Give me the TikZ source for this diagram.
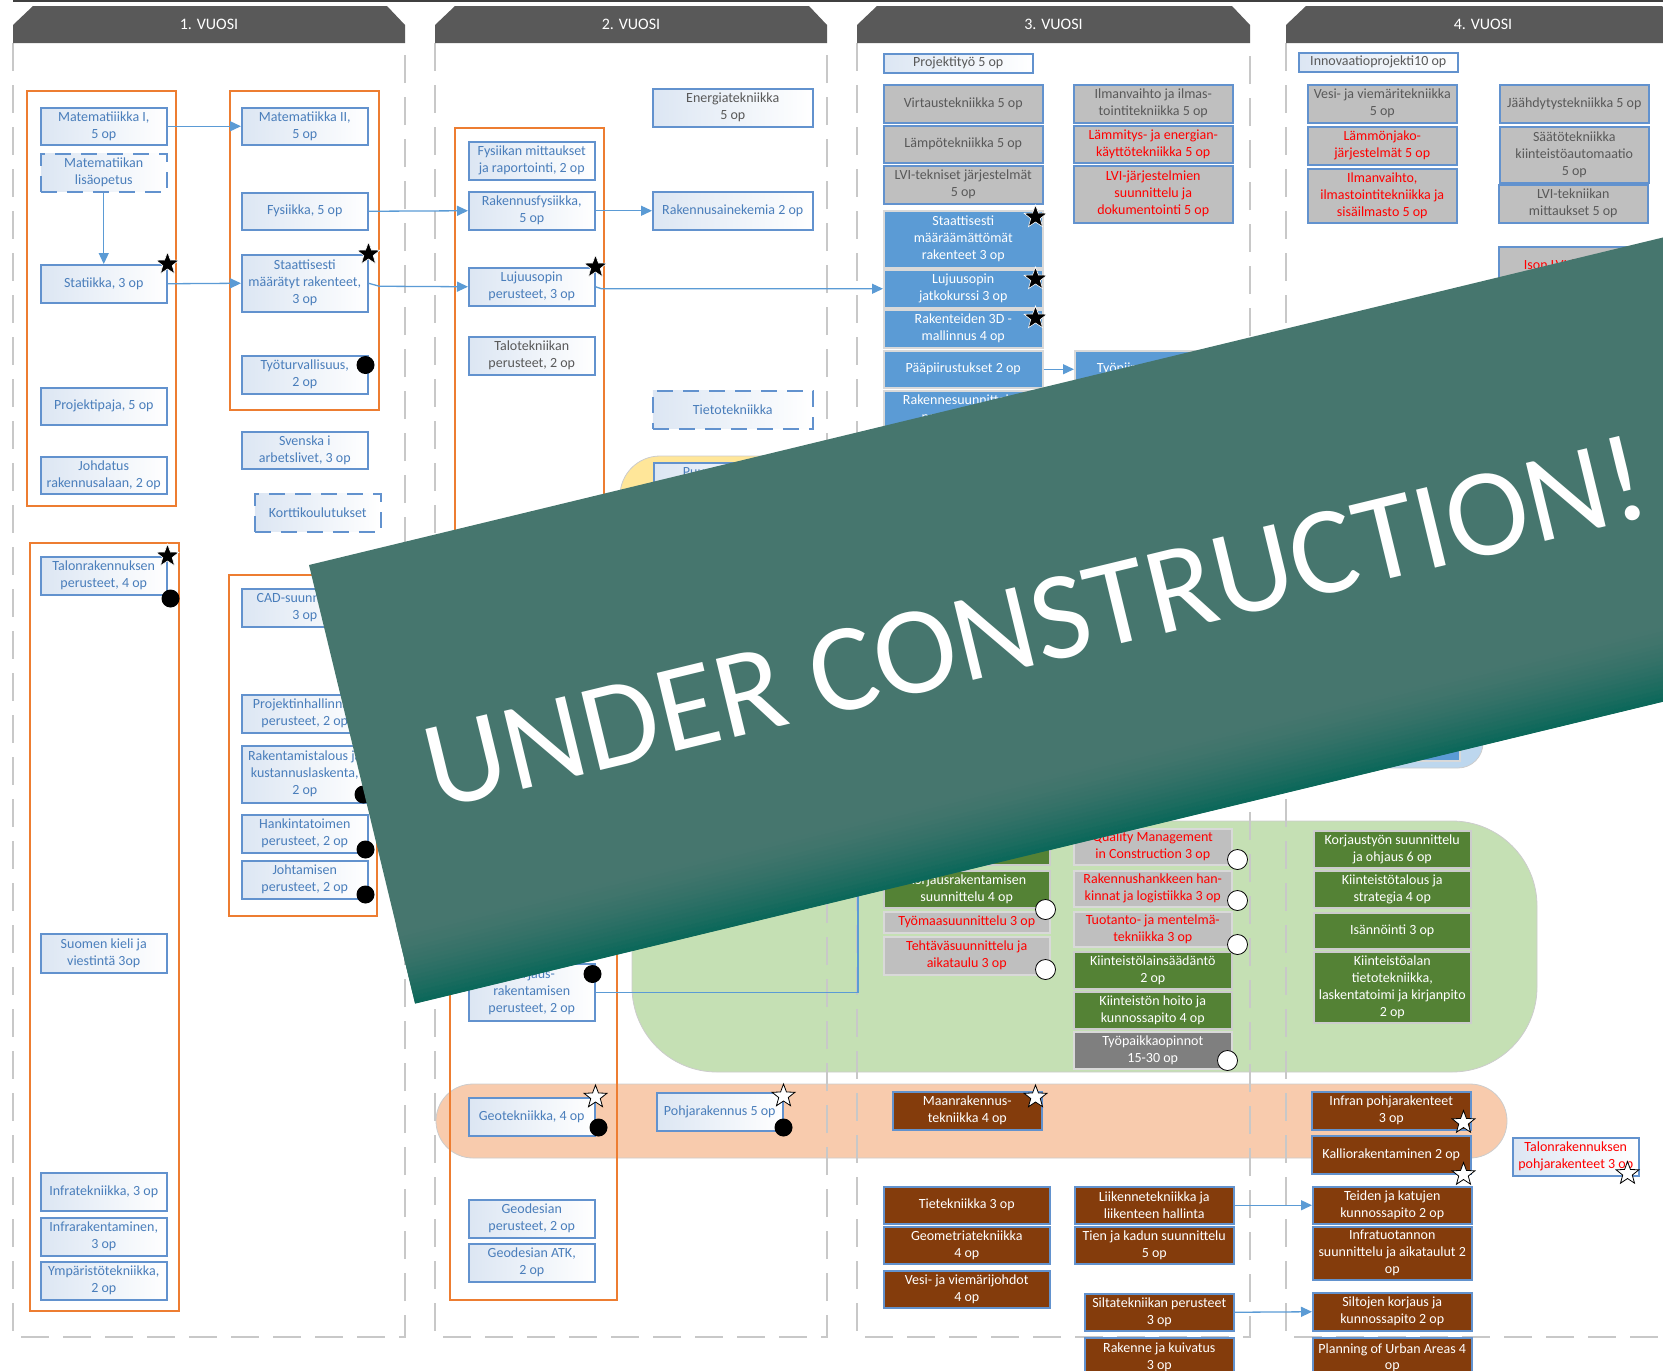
\documentclass[tikz,border=0pt]{standalone}
\usepackage{fontspec}
\setmainfont{Carlito}
\usetikzlibrary{shapes.geometric}
\usetikzlibrary{arrows.meta}
\usepackage{xcolor}
\definecolor{headgray}{RGB}{89,89,89}
\definecolor{framegray}{RGB}{200,200,200}
\definecolor{boxorange}{RGB}{237,125,49}
\definecolor{boxline}{RGB}{98,146,206}
\definecolor{flowblue}{RGB}{91,155,213}
\definecolor{coursetext}{RGB}{74,126,187}
\definecolor{graytext}{RGB}{89,89,89}
\definecolor{lightgrad}{RGB}{220,230,243}
\definecolor{coursegray}{RGB}{191,191,191}
\definecolor{coursedgray}{RGB}{127,127,127}
\definecolor{courseblue}{RGB}{91,155,213}
\definecolor{coursegreen}{RGB}{84,130,53}
\definecolor{coursebrown}{RGB}{132,60,12}
\definecolor{coursered}{RGB}{255,0,0}
\definecolor{greenblob}{RGB}{197,224,180}
\definecolor{orangeblob}{RGB}{248,203,173}
\definecolor{yellowblob}{RGB}{255,230,153}
\definecolor{blueblob}{RGB}{189,215,238}
\definecolor{banner}{RGB}{70,118,110}
\definecolor{bannerdark}{RGB}{12,104,90}
\newcommand{\boxfont}{\fontsize{14}{17}\selectfont}
\newcommand{\headfont}{\fontsize{16}{18}\selectfont}
\newcommand{\bannerfont}{\fontsize{125}{134}\selectfont}
\tikzset{
    course/.style={draw=boxline, line width=1.5pt, align=center, inner sep=1pt, anchor=north west, font=\boxfont},
    lbox/.style={course, left color=lightgrad, right color=white, text=coursetext},
    dbox/.style={lbox, dash pattern=on 16pt off 10pt},
    graybox/.style={course, fill=coursegray, text=graytext},
    bluebox/.style={course, draw=white!85!black, fill=courseblue, text=white},
    greenbox/.style={course, draw=white!80!black, fill=coursegreen, text=white},
    gbox/.style={course, draw=white!85!black, fill=coursegray, text=coursered},
    dgraybox/.style={course, draw=white!85!black, fill=coursedgray, text=white},
    brownbox/.style={course, fill=coursebrown, text=white},
    sz/.style 2 args={minimum width=#1pt, minimum height=#2pt},
    frame/.style={draw=framegray, line width=2pt, dash pattern=on 28pt off 14pt},
    obox/.style={draw=boxorange, line width=1.5pt},
    blob/.style={draw=black!20, line width=0.8pt},
    flow/.style={draw=flowblue, line width=1.3pt, -{Triangle[length=11pt,width=10pt]}},
    flowline/.style={draw=flowblue, line width=1.3pt},
    bstar/.style={star, star points=5, star point ratio=2.4, fill=black, draw=white, line width=0.6pt, minimum size=24pt, inner sep=0pt},
    wstar/.style={star, star points=5, star point ratio=2.4, fill=white, draw=black, line width=0.8pt, minimum size=24pt, inner sep=0pt},
    bdot/.style={circle, fill=black, minimum size=18pt, inner sep=0pt},
    wdot/.style={circle, fill=white, draw=black, line width=0.8pt, minimum size=20pt, inner sep=0pt}
}

\begin{document}
\begin{tikzpicture}[x=1pt, y=-1pt]
    \useasboundingbox (0,0) rectangle (1663,1371);
    \clip (0,0) rectangle (1663,1371);

    % background blobs
    \filldraw[blob, fill=yellowblob, rounded corners=40pt] (620,456) rectangle (800,700);
    \filldraw[blob, fill=blueblob, rounded corners=25pt] (1060,580) rectangle (1483,768);
    \filldraw[blob, fill=greenblob, rounded corners=85pt] (632,821) rectangle (1537,1072);
    \filldraw[blob, fill=orangeblob, rounded corners=37pt] (436,1084) rectangle (1507,1158);

    % year columns
    \draw[line width=2pt, black!75] (13,1) -- (1663,1);
    \foreach \xa/\xb/\n in {13/405/1, 435/827/2, 857/1250/3, 1286/1680/4} {
        \draw[frame] (\xa,43) -- (\xa,1337) -- (\xb,1337) -- (\xb,43);
        \fill[headgray] (\xa,43) -- (\xa,25) -- ({\xa+20},6) -- ({\xb-18},6) -- (\xb,25) -- (\xb,43) -- cycle;
        \node[text=white, font=\headfont] (head\n) at ({(\xa+\xb)/2},24) {\n. VUOSI};
    }

    % orange groups
    \draw[obox] (27,91) rectangle (176,506);
    \draw[obox] (230,91) rectangle (379,410);
    \draw[obox] (30,543) rectangle (179,1311);
    \draw[obox] (229,575) rectangle (377,916);
    \draw[obox] (455,128) rectangle (604,800);
    \draw[obox] (450,850) rectangle (617,1300);

    % 1. vuosi
    \node[lbox, sz={126}{37}] (mat1) at (40,107) {Matematiiikka I,\\5 op};
    \node[dbox, sz={126}{38}] (lisa) at (40,153) {Matematiikan\\lisäopetus};
    \node[lbox, sz={126}{38}] (stat) at (40,264) {Statiikka, 3 op};
    \node[lbox, sz={126}{37}] (proj) at (40,387) {Projektipaja, 5 op};
    \node[lbox, sz={126}{37}] (johd) at (40,456) {Johdatus\\rakennusalaan, 2 op};
    \node[lbox, sz={126}{37}] (mat2) at (241,107) {Matematiikka II,\\5 op};
    \node[lbox, sz={126}{37}] (fys) at (241,192) {Fysiikka, 5 op};
    \node[lbox, sz={126}{57}] (sma) at (241,254) {Staattisesti\\määrätyt rakenteet,\\3 op};
    \node[lbox, sz={126}{38}] (tyot) at (241,355) {Työturvallisuus,\\2 op};
    \node[lbox, sz={126}{37}] (sven) at (241,431) {Svenska i\\arbetslivet, 3 op};
    \node[dbox, sz={126}{38}] (kort) at (254,493) {Korttikoulutukset};
    \node[lbox, sz={126}{38}] (talo) at (40,556) {Talonrakennuksen\\perusteet, 4 op};
    \node[lbox, sz={126}{38}] (cad) at (241,588) {CAD-suunnittelu,\\3 op};
    \node[lbox, sz={126}{38}] (pjh) at (241,694) {Projektinhallinnan\\perusteet, 2 op};
    \node[lbox, sz={126}{57}] (rtal) at (241,745) {Rakentamistalous ja\\kustannuslaskenta,\\2 op};
    \node[lbox, sz={126}{38}] (hank) at (241,814) {Hankintatoimen\\perusteet, 2 op};
    \node[lbox, sz={126}{38}] (joht) at (241,860) {Johtamisen\\perusteet, 2 op};
    \node[lbox, sz={126}{39}] (suom) at (40,933) {Suomen kieli ja\\viestintä 3op};
    \node[lbox, sz={126}{38}] (inft) at (40,1172) {Infratekniikka, 3 op};
    \node[lbox, sz={126}{38}] (infr) at (40,1217) {Infrarakentaminen,\\3 op};
    \node[lbox, sz={126}{38}] (ymp) at (40,1261) {Ympäristötekniikka,\\2 op};

    % 2. vuosi
    \node[lbox, sz={126}{38}] (fmit) at (468,141) {Fysiikan mittaukset\\ja  raportointi, 2 op};
    \node[lbox, sz={126}{38}] (rfys) at (468,191) {Rakennusfysiikka,\\5 op};
    \node[lbox, sz={126}{38}] (luj1) at (468,267) {Lujuusopin\\perusteet, 3 op};
    \node[lbox, sz={126}{38}, text=graytext] (ttek) at (468,336) {Talotekniikan\\perusteet, 2 op};
    \node[lbox, sz={160}{38}, text=graytext] (ener) at (652,88) {Energiatekniikka\\5 op};
    \node[lbox, sz={160}{38}] (raki) at (652,191) {Rakennusainekemia 2 op};
    \node[dbox, sz={160}{38}] (tiet) at (652,390) {Tietotekniikka};
    \node[lbox, sz={159}{38}] (puu) at (653,462) {Puurakentaminen\\5 op};
    \node[lbox, sz={126}{57}] (kper) at (468,963) {Korjaus-\\rakentamisen\\perusteet, 2 op};
    \node[lbox, sz={126}{38}] (geot) at (468,1097) {Geotekniikka, 4 op};
    \node[lbox, sz={126}{38}] (pohj) at (656,1092) {Pohjarakennus 5 op};
    \node[lbox, sz={126}{38}] (geop) at (468,1199) {Geodesian\\perusteet, 2 op};
    \node[lbox, sz={126}{38}] (geoa) at (468,1243) {Geodesian ATK,\\2 op};

    % 3. vuosi
    \node[lbox, sz={149}{19}, text=graytext] (prty) at (883,53) {Projektityö 5 op};
    \node[graybox, sz={159}{38}] (virt) at (883,84) {Virtaustekniikka 5 op};
    \node[graybox, sz={159}{37}] (lamp) at (883,125) {Lämpötekniikka 5 op};
    \node[graybox, sz={159}{38}] (lvit) at (883,165) {LVI-tekniset järjestelmät\\5 op};
    \node[bluebox, sz={159}{57}] (smm) at (883,210) {Staattisesti\\määräämättömät\\rakenteet 3 op};
    \node[bluebox, sz={159}{38}] (luj2) at (883,269) {Lujuusopin\\jatkokurssi 3 op};
    \node[bluebox, sz={159}{38}] (r3d) at (883,309) {Rakenteiden 3D -\\mallinnus 4 op};
    \node[bluebox, sz={159}{37}] (ppir) at (883,350) {Pääpiirustukset 2 op};
    \node[bluebox, sz={159}{38}] (rsuu) at (883,390) {Rakennesuunnittelun\\perusteet 3 op};
    \node[bluebox, sz={159}{37}] (tpir) at (1074,350) {Työpiirustukset 2 op};
    \node[bluebox, sz={149}{55}] (lvb) at (1310,705) {};
    \node[graybox, sz={159}{38}] (ilma) at (1073,84) {Ilmanvaihto ja ilmas-\\tointitekniikka 5 op};
    \node[graybox, sz={159}{37}, text=coursered] (lamm) at (1073,125) {Lämmitys- ja energian-\\käyttötekniikka 5 op};
    \node[graybox, sz={159}{57}, text=coursered] (lvij) at (1073,165) {LVI-järjestelmien\\suunnittelu ja\\dokumentointi 5 op};
    \node[greenbox, sz={166}{37}] (khid) at (883,827) {};
    \node[greenbox, sz={166}{37}] (ksuu) at (883,870) {Korjausrakentamisen\\suunnittelu 4 op};
    \node[gbox, sz={166}{21}] (tyom) at (883,911) {Työmaasuunnittelu 3 op};
    \node[gbox, sz={166}{38}] (teht) at (883,936) {Tehtäväsuunnittelu ja\\aikataulu 3 op};
    \node[gbox, sz={158}{36}] (qual) at (1073,828) {Quality Management\\in Construction 3 op};
    \node[gbox, sz={158}{36}] (rhan) at (1073,870) {Rakennushankkeen han-\\kinnat ja logistiikka 3 op};
    \node[gbox, sz={158}{35}] (tuot) at (1073,911) {Tuotanto- ja mentelmä-\\tekniikka 3 op};
    \node[greenbox, sz={158}{37}] (klak) at (1073,951) {Kiinteistölainsäädäntö\\2 op};
    \node[greenbox, sz={158}{37}] (khoi) at (1073,991) {Kiinteistön hoito ja\\kunnossapito 4 op};
    \node[dgraybox, sz={158}{37}] (typa) at (1073,1031) {Työpaikkaopinnot\\15-30 op};
    \node[brownbox, sz={149}{38}] (maan) at (892,1091) {Maanrakennus-\\tekniikka 4 op};
    \node[brownbox, sz={166}{37}] (tiek) at (883,1186) {Tietekniikka 3 op};
    \node[brownbox, sz={166}{37}] (geom) at (883,1226) {Geometriatekniikka\\4 op};
    \node[brownbox, sz={166}{37}] (vesj) at (883,1270) {Vesi- ja viemärijohdot\\4 op};
    \node[brownbox, sz={159}{37}] (liik) at (1074,1186) {Liikennetekniikka ja\\liikenteen hallinta};
    \node[brownbox, sz={159}{37}] (tien) at (1074,1226) {Tien ja kadun suunnittelu\\5 op};
    \node[brownbox, sz={149}{37}] (silt) at (1084,1293) {Siltatekniikan perusteet\\3 op};
    \node[brownbox, sz={149}{38}] (rake) at (1084,1337) {Rakenne ja kuivatus\\3 op};

    % 4. vuosi
    \node[lbox, sz={159}{19}, text=graytext] (inno) at (1298,52) {Innovaatioprojekti10 op};
    \node[graybox, sz={149}{38}] (vesv) at (1307,84) {Vesi- ja viemäritekniikka\\5 op};
    \node[graybox, sz={149}{38}, text=coursered] (lmjk) at (1307,126) {Lämmönjako-\\järjestelmät 5 op};
    \node[graybox, sz={149}{54}, text=coursered] (ilms) at (1307,168) {Ilmanvaihto,\\ilmastointitekniikka ja\\sisäilmasto 5 op};
    \node[graybox, sz={149}{38}] (jaah) at (1499,84) {Jäähdytystekniikka 5 op};
    \node[graybox, sz={149}{56}] (saat) at (1499,126) {Säätötekniikka\\kiinteistöautomaatio\\5 op};
    \node[graybox, sz={149}{38}] (lvim) at (1498,184) {LVI-tekniikan\\mittaukset 5 op};
    \node[graybox, sz={149}{56}, text=coursered] (ison) at (1498,246) {Ison LVI-laitoksen\\suunnittelu 5 op};
    \node[greenbox, sz={157}{37}] (kors) at (1313,830) {Korjaustyön suunnittelu\\ja ohjaus 6 op};
    \node[greenbox, sz={157}{37}] (kita) at (1313,870) {Kiinteistötalous ja\\strategia 4 op};
    \node[greenbox, sz={157}{36}] (isan) at (1313,912) {Isännöinti 3 op};
    \node[greenbox, sz={157}{71}] (kiat) at (1313,951) {Kiinteistöalan\\tietotekniikka,\\laskentatoimi ja kirjanpito\\2 op};
    \node[brownbox, sz={159}{38}] (infp) at (1311,1091) {Infran pohjarakenteet\\3 op};
    \node[brownbox, sz={159}{38}] (kall) at (1311,1135) {Kalliorakentaminen 2 op};
    \node[lbox, sz={126}{38}, text=coursered] (tapo) at (1512,1137) {Talonrakennuksen\\pohjarakenteet 3 op};
    \node[brownbox, sz={159}{37}] (teid) at (1312,1186) {Teiden ja katujen\\kunnossapito 2 op};
    \node[brownbox, sz={159}{53}] (intu) at (1312,1226) {Infratuotannon\\suunnittelu ja aikataulut 2\\op};
    \node[brownbox, sz={159}{38}] (silk) at (1312,1292) {Siltojen korjaus ja\\kunnossapito 2 op};
    \node[brownbox, sz={159}{40}] (plan) at (1312,1337) {Planning of Urban Areas 4\\op};

    % connectors
    \coordinate (korjup) at (858,850);
    \draw[flow] (mat1.east) -- (mat2.west);
    \draw[flow] (lisa.south) -- (stat.north);
    \draw[flow] (stat.east) -- (sma.west);
    \draw[flow] (fys.east) -- (rfys.west);
    \draw[flow] (rfys.east) -- (raki.west);
    \draw[flow] (sma.east) -- ++(11,3) -- (luj1.west);
    \draw[flow] (luj1.east) -- ++(6,2) -- (luj2.west);
    \draw[flow] (ppir.east) -- (tpir.west);
    \draw[flow] (liik.east) -- (teid.west);
    \draw[flow] (silt.east) -- (silk.west);
    \draw[flowline] (kper.east) -| (korjup);

    % markers
    \node[bstar] (st1) at (stat.north east) {};
    \node[bstar] (st2) at (sma.north east) {};
    \node[bstar] (st3) at (luj1.north east) {};
    \node[bstar] (st4) at ([shift={(-8,7)}]smm.north east) {};
    \node[bstar] (st5) at ([shift={(-8,10)}]luj2.north east) {};
    \node[bstar] (st6) at ([shift={(-8,9)}]r3d.north east) {};
    \node[bstar] (st7) at (talo.north east) {};
    \node[wstar] (ws1) at (geot.north east) {};
    \node[wstar] (ws2) at ([shift={(0,4)}]pohj.north east) {};
    \node[wstar] (ws3) at ([shift={(-7,6)}]maan.north east) {};
    \node[wstar] (ws4) at ([shift={(-8,-8)}]infp.south east) {};
    \node[wstar] (ws5) at ([shift={(-8,0)}]kall.south east) {};
    \node[wstar] (ws6) at ([shift={(-12,-3)}]tapo.south east) {};
    \node[bdot] (bd1) at ([shift={(-3,10)}]tyot.north east) {};
    \node[bdot] (bd2) at ([shift={(3,3)}]talo.south east) {};
    \node[bdot] (bd3) at ([shift={(-5,-9)}]rtal.south east) {};
    \node[bdot] (bd4) at ([shift={(-3,-4)}]hank.south east) {};
    \node[bdot] (bd5) at ([shift={(-3,-5)}]joht.south east) {};
    \node[bdot] (bd6) at ([shift={(-3,11)}]kper.north east) {};
    \node[bdot] (bd7) at ([shift={(3,-9)}]geot.south east) {};
    \node[bdot] (bd8) at ([shift={(0,-4)}]pohj.south east) {};
    \node[wdot] (wd1) at ([shift={(-5,1)}]ksuu.south east) {};
    \node[wdot] (wd2) at ([shift={(-5,-6)}]teht.south east) {};
    \node[wdot] (wd3) at ([shift={(5,-6)}]qual.south east) {};
    \node[wdot] (wd4) at ([shift={(5,-7)}]rhan.south east) {};
    \node[wdot] (wd5) at ([shift={(5,-3)}]tuot.south east) {};
    \node[wdot] (wd6) at ([shift={(-5,-9)}]typa.south east) {};

    % banner on top
    \begin{scope}[shift={(309,565)}, rotate=13.6]
        \fill[banner] (0,0) rectangle (1420,451);
        \foreach \i in {0,...,19} {
            \pgfmathtruncatemacro\pct{100*(\i/19)^1.6}
            \fill[bannerdark!\pct!banner] (0,{371+4*\i}) rectangle (1420,{375.3+4*\i});
        }
        \node[anchor=base west, text=white, font=\bannerfont, transform shape, inner sep=0pt] (uc) at (66,268) {UNDER CONSTRUCTION!};
    \end{scope}
\end{tikzpicture}
\end{document}
